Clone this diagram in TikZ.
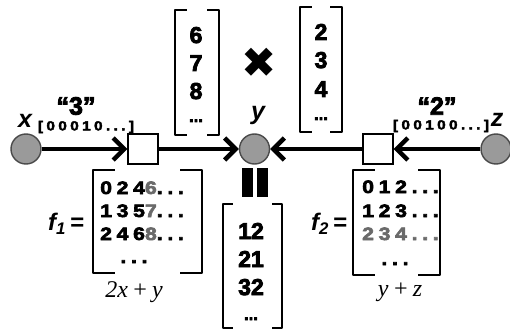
\documentclass[tikz,border=0pt]{standalone}
\usepackage{fontspec}
\setmainfont{Liberation Sans}
\newfontfamily\hv[BoldFeatures={FakeBold=3.5}]{Liberation Sans}
\newfontfamily\tnr{Liberation Serif}
\newfontfamily\matfont[LetterSpace=26,FakeStretch=1.18,BoldFeatures={FakeBold=3.5}]{Liberation Sans}
\newfontfamily\dvs{DejaVu Sans}
\usetikzlibrary{arrows.meta}
\definecolor{dotfill}{HTML}{9A9A9A}
\definecolor{dotline}{HTML}{4A4A4A}
\definecolor{dimgray}{HTML}{6A6A6A}
\newcommand\drawbrackets[2]{%
  \draw[brk] ([xshift=#2]#1.north west) -- (#1.north west) -- (#1.south west) -- ([xshift=#2]#1.south west);
  \draw[brk] ([xshift=-#2]#1.north east) -- (#1.north east) -- (#1.south east) -- ([xshift=-#2]#1.south east);}
\tikzset{
  dot/.style={circle, draw=dotline, fill=dotfill, line width=1.4pt, minimum size=30pt, inner sep=0pt},
  factor/.style={draw=black, line width=1.2pt, fill=white, minimum size=30pt, inner sep=0pt},
  arr/.style={line width=4.5pt, -{Straight Barb[length=11pt,width=22pt]}},
  brk/.style={line width=1.6pt, line join=round},
  holder/.style={draw=none, inner sep=0pt, minimum width=#1},
  varlbl/.style={font=\hv\bfseries\itshape\fontsize{25}{25}\selectfont, inner sep=0pt},
  quot/.style={font=\hv\bfseries\fontsize{25}{25}\selectfont, inner sep=0pt},
  msg/.style={font=\matfont\bfseries\fontsize{13}{13}\selectfont, inner sep=0pt},
  num/.style={font=\hv\bfseries\fontsize{23}{23}\selectfont, inner sep=0pt, anchor=base},
  ndots/.style={font=\hv\bfseries\fontsize{17}{17}\selectfont, inner sep=0pt, anchor=base},
  row/.style={font=\matfont\bfseries\fontsize{18}{18}\selectfont, inner sep=0pt, anchor=base west},
  fname/.style={font=\hv\bfseries\itshape\fontsize{24}{24}\selectfont, inner sep=0pt},
  expr/.style={font=\tnr\itshape\fontsize{24}{24}\selectfont, inner sep=0pt},
}
\begin{document}
\begin{tikzpicture}[x=1pt,y=-1pt]
\useasboundingbox (0,0) rectangle (510,331);

% variable nodes and factors
\node[dot] (xn) at (26,149) {};
\node[dot] (yn) at (254.5,149) {};
\node[dot] (zn) at (496,149) {};
\node[factor] (f1box) at (143,149) {};
\node[factor] (f2box) at (378,149) {};

\draw[arr] (xn) -- (f1box);
\draw[arr] (f1box) -- (yn);
\draw[arr] (zn) -- (f2box);
\draw[arr] (f2box) -- (yn);

% labels
\node[varlbl] (xl) at (25,121) {x};
\node[varlbl] (yl) at (258,115) {y};
\node[varlbl] (zl) at (497,120) {z};
\node[quot] (q3) at (76,106) {“3”};
\node[msg] (m3) at (86,127) {[00010...]};
\node[quot] (q2) at (437,106) {“2”};
\node[msg] (m2) at (441,126) {[00100...]};

% top-left vector
\node[holder=44pt, minimum height=125pt] (v1) at (197,72.5) {};
\drawbrackets{v1}{12pt}
\node[num] (v1a) at (196,43) {6};
\node[num] (v1b) at (196,71) {7};
\node[num] (v1c) at (196,99) {8};
\node[ndots] (v1d) at (196,122) {...};

% top-right vector
\node[holder=42pt, minimum height=125pt] (v2) at (321,69.5) {};
\drawbrackets{v2}{12pt}
\node[num] (v2a) at (321,40) {2};
\node[num] (v2b) at (321,68) {3};
\node[num] (v2c) at (321,97) {4};
\node[ndots] (v2d) at (321,120) {...};

% product symbol
\node[font=\dvs\fontsize{42}{42}\selectfont, inner sep=0pt] (times) at (259,63) {✖};

% equals bars
\fill (242,168) rectangle (253,197);
\fill (257,168) rectangle (268,197);

% bottom vector
\node[holder=59pt, minimum height=124pt] (v3) at (252.5,266) {};
\drawbrackets{v3}{10pt}
\node[num] (v3a) at (251,239) {12};
\node[num] (v3b) at (251,267) {21};
\node[num] (v3c) at (251,295) {32};
\node[ndots] (v3d) at (251,320) {...};

% f1 matrix
\node[fname] (f1l) at (66,224) {f\textsubscript{1}\,=};
\node[holder=109pt, minimum height=103pt] (m1) at (147.5,221.5) {};
\drawbrackets{m1}{22pt}
\node[row] (m1a) at (100,194) {024\textcolor{dimgray}{6}...};
\node[row] (m1b) at (100,217) {135\textcolor{dimgray}{7}...};
\node[row] (m1c) at (100,240) {246\textcolor{dimgray}{8}...};
\node[row, anchor=base] (m1d) at (134,263) {...};
\node[expr] (e1) at (134,292) {2x\kern4pt+\kern4pt y};

% f2 matrix
\node[fname] (f2l) at (329,224) {f\textsubscript{2}\,=};
\node[holder=87pt, minimum height=105pt] (m2) at (396.5,222.5) {};
\drawbrackets{m2}{22pt}
\node[row] (m2a) at (362,193) {012...};
\node[row] (m2b) at (362,217) {123...};
\node[row, text=dimgray] (m2c) at (362,240) {234...};
\node[row, anchor=base] (m2d) at (395,265) {...};
\node[expr] (e2) at (400,292) {y\kern4pt+\kern4pt z};
\end{tikzpicture}
\end{document}
